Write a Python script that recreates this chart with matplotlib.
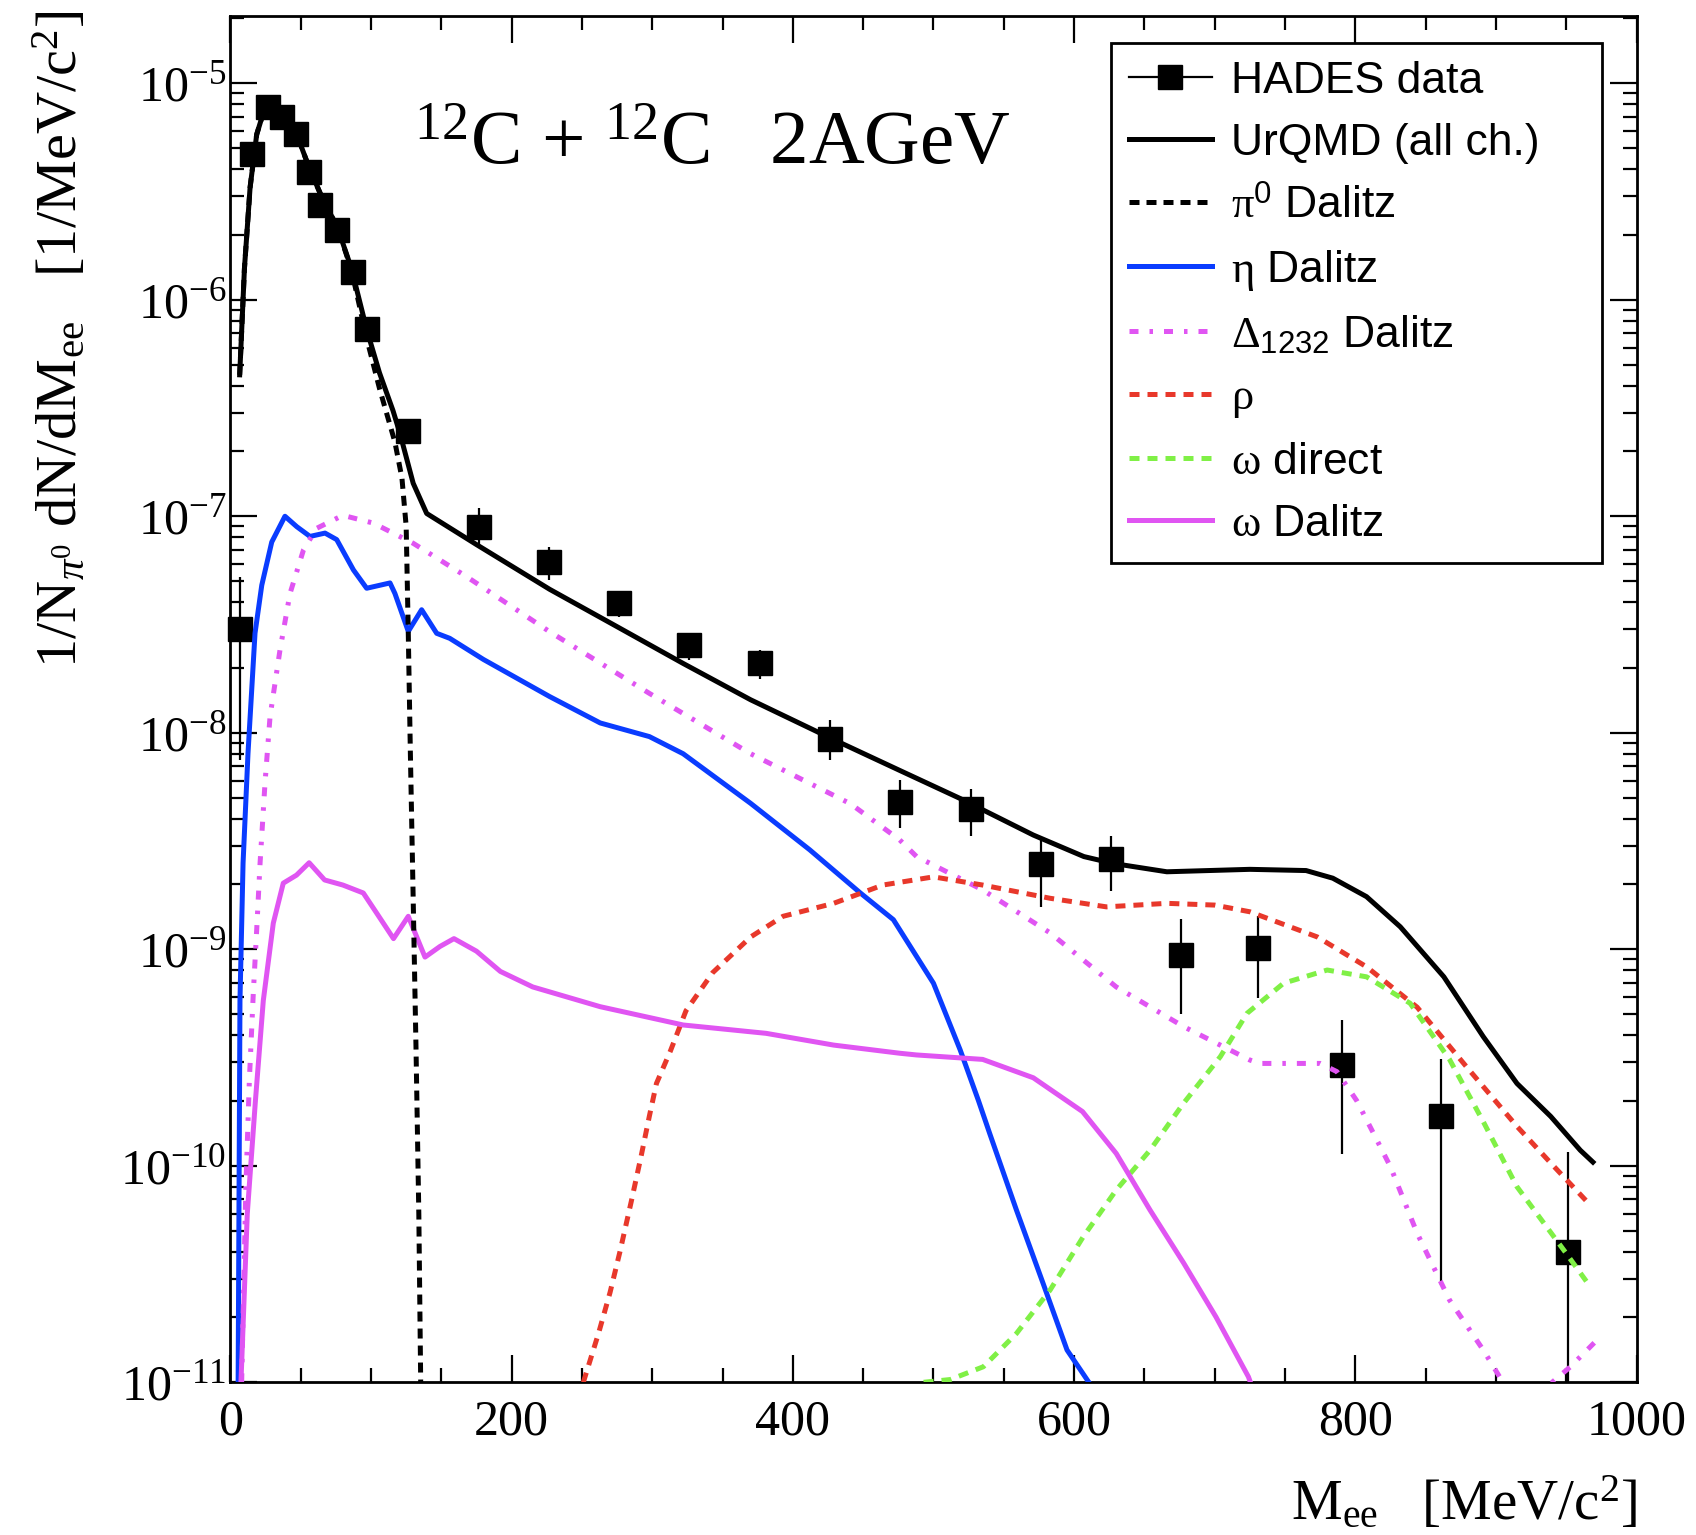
import matplotlib
matplotlib.use('Agg')
import matplotlib.pyplot as plt
from matplotlib.lines import Line2D
from matplotlib.ticker import MultipleLocator, LogLocator, NullFormatter
import numpy as np

plt.rcParams['font.family'] = ['Liberation Serif', 'DejaVu Serif']
plt.rcParams['mathtext.fontset'] = 'custom'
plt.rcParams['mathtext.rm'] = 'Liberation Serif'
plt.rcParams['mathtext.it'] = 'Liberation Serif:italic'
plt.rcParams['mathtext.bf'] = 'Liberation Serif:bold'
plt.rcParams['mathtext.sf'] = 'Liberation Sans'
plt.rcParams['axes.unicode_minus'] = False

# HADES data (M_ee in MeV/c^2, 1/N dN/dM), error bar low / high ends
hades_x = [6.6, 15.5, 26.5, 37, 46.5, 56, 64, 76, 87, 97, 126.5, 176.5, 226.5,
           276.5, 326.5, 376.5, 426.5, 476, 526.5, 576.5, 626.5, 676, 731,
           790.5, 861, 951]
hades_y = [3.0e-8, 4.7e-6, 7.8e-6, 7.0e-6, 5.8e-6, 3.9e-6, 2.73e-6, 2.1e-6,
           1.34e-6, 7.3e-7, 2.48e-7, 8.95e-8, 6.17e-8, 3.96e-8, 2.55e-8,
           2.09e-8, 9.4e-9, 4.8e-9, 4.43e-9, 2.48e-9, 2.6e-9, 9.4e-10, 1.01e-9,
           2.92e-10, 1.7e-10, 4.0e-11]
hades_lo = [7.5e-9, 4.5e-6, 7.5e-6, 6.7e-6, 5.55e-6, 3.75e-6, 2.62e-6, 2.02e-6,
            1.29e-6, 7.0e-7, 2.38e-7, 7.3e-8, 5.08e-8, 3.44e-8, 2.17e-8,
            1.78e-8, 7.5e-9, 3.62e-9, 3.33e-9, 1.57e-9, 1.85e-9, 5.0e-10,
            5.94e-10, 1.13e-10, 2.81e-11, 1.0e-11]
hades_hi = [5.26e-8, 4.9e-6, 8.1e-6, 7.3e-6, 6.05e-6, 4.05e-6, 2.84e-6, 2.18e-6,
            1.39e-6, 7.6e-7, 2.58e-7, 1.09e-7, 7.24e-8, 4.4e-8, 2.8e-8,
            2.41e-8, 1.15e-8, 6.05e-9, 5.48e-9, 3.31e-9, 3.33e-9, 1.38e-9,
            1.42e-9, 4.71e-10, 3.1e-10, 1.16e-10]

# UrQMD, all channels
urqmd_x = [6.6, 10, 14, 18.7, 25, 29, 36, 46, 56, 66, 76, 86, 97, 106, 115.6,
           120.6, 130, 139.6, 175, 227, 275, 322, 370, 429, 476, 519, 571, 607,
           628, 666, 725, 765, 784, 808, 832, 863, 891, 915, 939, 960, 969]
urqmd_y = [4.5e-7, 1.4e-6, 3.3e-6, 5.8e-6, 7.9e-6, 8.1e-6, 7.4e-6, 6.1e-6,
           4.07e-6, 2.88e-6, 2.17e-6, 1.4e-6, 7.26e-7, 4.6e-7, 3.08e-7, 2.41e-7,
           1.42e-7, 1.03e-7, 7.4e-8, 4.6e-8, 3.09e-8, 2.09e-8, 1.42e-8, 9.3e-9,
           6.7e-9, 4.97e-9, 3.37e-9, 2.68e-9, 2.49e-9, 2.28e-9, 2.34e-9,
           2.31e-9, 2.13e-9, 1.75e-9, 1.27e-9, 7.46e-10, 3.95e-10, 2.4e-10,
           1.69e-10, 1.18e-10, 1.04e-10]

# pi0 Dalitz
pi0_x = [6.6, 10, 14, 18.7, 25, 29, 36, 46, 56, 66, 76, 86, 97, 106, 117, 122,
         125, 126.5, 128, 130, 132, 134, 135.5]
pi0_y = [4.5e-7, 1.4e-6, 3.3e-6, 5.8e-6, 7.9e-6, 8.1e-6, 7.4e-6, 6.1e-6,
         4.07e-6, 2.88e-6, 2.17e-6, 1.38e-6, 6.6e-7, 3.9e-7, 2.2e-7, 1.5e-7,
         9.0e-8, 2.9e-8, 8.0e-9, 1.7e-9, 3.5e-10, 6.0e-11, 8.0e-12]

# eta Dalitz
eta_x = [5.5, 6.8, 9, 12.5, 17.5, 22.3, 29.4, 38.8, 47.2, 56.6, 67.3, 75.6,
         87.5, 96.9, 113.5, 117, 126.5, 136, 146.7, 156, 180, 227, 263, 298,
         322, 370, 412, 448, 471.5, 500, 519, 532, 540, 559, 578, 595, 610.5]
eta_y = [1e-11, 5.8e-10, 2.5e-9, 8.0e-9, 2.88e-8, 4.8e-8, 7.6e-8, 1.0e-7,
         8.95e-8, 8.07e-8, 8.36e-8, 7.8e-8, 5.65e-8, 4.65e-8, 4.92e-8, 4.4e-8,
         2.94e-8, 3.7e-8, 2.88e-8, 2.73e-8, 2.18e-8, 1.47e-8, 1.11e-8, 9.6e-9,
         8.0e-9, 4.72e-9, 2.88e-9, 1.82e-9, 1.37e-9, 6.97e-10, 3.43e-10,
         2.0e-10, 1.41e-10, 6.25e-11, 2.86e-11, 1.41e-11, 1e-11]

# Delta(1232) Dalitz
delta_x = [8, 11, 13.5, 16.3, 18.7, 21.1, 24.6, 28.2, 35.3, 42.4, 52, 61.4, 80,
           101.6, 130, 168, 227, 298, 370, 441, 476, 488, 535, 583, 630, 678,
           725, 732, 761, 775, 787, 801, 813, 825, 844, 867, 891, 905, 922,
           940, 953, 972]
delta_y = [1e-11, 8e-11, 2.5e-10, 6.3e-10, 1.23e-9, 2.5e-9, 5.85e-9, 1.19e-8,
           2.42e-8, 4.4e-8, 7.0e-8, 8.8e-8, 1.01e-7, 9.3e-8, 7.5e-8, 5.26e-8,
           2.93e-8, 1.52e-8, 8.0e-9, 4.7e-9, 3.2e-9, 2.68e-9, 1.88e-9, 1.19e-9,
           6.7e-10, 4.39e-10, 3.08e-10, 2.97e-10, 2.97e-10, 2.97e-10, 2.72e-10,
           2.0e-10, 1.41e-10, 9.9e-11, 4.88e-11, 2.4e-11, 1.41e-11, 1e-11,
           6e-12, 1e-11, 1.18e-11, 1.57e-11]

# rho
rho_x = [251, 262, 270, 277, 285, 292, 298, 303, 313, 324, 343, 370, 393, 429,
         464, 500, 535, 583, 623, 666, 700, 725, 773, 808, 844, 879, 915, 939,
         966]
rho_y = [1e-11, 1.7e-11, 2.6e-11, 4.0e-11, 6.8e-11, 1.1e-10, 1.7e-10, 2.4e-10,
         3.4e-10, 5.2e-10, 7.8e-10, 1.14e-9, 1.42e-9, 1.63e-9, 1.98e-9,
         2.16e-9, 1.98e-9, 1.72e-9, 1.57e-9, 1.63e-9, 1.6e-9, 1.49e-9, 1.14e-9,
         8.3e-10, 5.4e-10, 2.87e-10, 1.52e-10, 1.03e-10, 6.7e-11]

# omega direct
omega_x = [493, 512, 535.5, 559, 583, 606.6, 630, 654, 678, 704, 723, 749, 780,
           808, 839, 867, 891, 915, 950, 967]
omega_y = [1e-11, 1.03e-11, 1.18e-11, 1.68e-11, 2.67e-11, 4.71e-11, 7.73e-11,
           1.18e-10, 1.95e-10, 3.19e-10, 5.06e-10, 6.97e-10, 8.02e-10,
           7.46e-10, 5.63e-10, 3.1e-10, 1.6e-10, 8.0e-11, 3.94e-11, 2.77e-11]

# omega Dalitz
omd_x = [7.5, 12, 17.8, 23.4, 30.5, 37.6, 47, 56, 67, 80, 94.5, 104, 116,
         126.5, 138.4, 149, 159, 175, 192, 215, 263, 322, 381, 429, 476, 488,
         535, 571, 606, 630, 654, 678, 701, 724, 728]
omd_y = [1e-11, 6e-11, 2.0e-10, 5.8e-10, 1.32e-9, 2.02e-9, 2.2e-9, 2.51e-9,
         2.09e-9, 1.98e-9, 1.82e-9, 1.47e-9, 1.12e-9, 1.42e-9, 9.2e-10, 1.03e-9,
         1.12e-9, 9.8e-10, 7.9e-10, 6.7e-10, 5.43e-10, 4.47e-10, 4.09e-10,
         3.61e-10, 3.31e-10, 3.25e-10, 3.1e-10, 2.55e-10, 1.78e-10, 1.14e-10,
         6.25e-11, 3.55e-11, 2.0e-11, 1.06e-11, 9e-12]

C_BLUE = '#0A3CFF'
C_MAG = '#E055F2'
C_RED = '#E8382B'
C_GREEN = '#80F046'

fig = plt.figure(figsize=(16.96, 15.35), dpi=100)
ax = fig.add_axes([0.13585, 0.09948, 0.82907, 0.88997])

# data
hy = np.array(hades_y)
yerr = [hy - np.array(hades_lo), np.array(hades_hi) - hy]
eb = ax.errorbar(hades_x, hades_y, yerr=yerr, fmt='s', color='k', ms=17,
                 mew=1, elinewidth=1.6, capsize=0, zorder=2)
eb[0].set_clip_on(False)

lw = 3.6
ax.plot(urqmd_x, urqmd_y, color='k', lw=lw, zorder=4)
ax.plot(pi0_x, pi0_y, color='k', lw=lw, ls=(0, (2.0, 1.4)), zorder=4)
ax.plot(eta_x, eta_y, color=C_BLUE, lw=lw, zorder=3)
ax.plot(delta_x, delta_y, color=C_MAG, lw=lw, ls=(0, (1.8, 2.2, 0.7, 2.2)), zorder=3)
ax.plot(rho_x, rho_y, color=C_RED, lw=lw, ls=(0, (2.0, 1.6)), zorder=3)
ax.plot(omega_x, omega_y, color=C_GREEN, lw=lw, ls=(0, (2.0, 1.6)), zorder=3)
ax.plot(omd_x, omd_y, color=C_MAG, lw=lw, zorder=3)

ax.set_yscale('log')
ax.set_xlim(0, 1000)
ax.set_ylim(1e-11, 2.04e-5)
ax.xaxis.set_major_locator(MultipleLocator(200))
ax.xaxis.set_minor_locator(MultipleLocator(50))
ax.yaxis.set_major_locator(LogLocator(base=10, numticks=20))
ax.yaxis.set_minor_locator(LogLocator(base=10, subs=np.arange(2, 10) * 1.0, numticks=20))
ax.yaxis.set_minor_formatter(NullFormatter())

ax.tick_params(which='both', direction='in', top=True, right=True, width=1.6,
               labelsize=36)
ax.tick_params(which='major', length=19.5)
ax.tick_params(which='minor', length=10)
ax.tick_params(axis='x', which='major', pad=12)
ax.tick_params(axis='y', which='major', pad=3)
for s in ax.spines.values():
    s.set_linewidth(2)

ax.text(0.1306, 0.892, r'$^{12}$C + $^{12}$C   2AGeV', transform=ax.transAxes,
        fontsize=55.5, ha='left', va='baseline')

fig.text(0.9655, 0.0098, r'M$_{\mathrm{ee}}$   [MeV/c$^{2}$]', fontsize=41,
         ha='right', va='baseline')
fig.text(0.036, 0.993, r'1/N$_{\pi^{0}}$ dN/dM$_{\mathrm{ee}}$   [1/MeV/c$^{2}$]',
         fontsize=42, rotation=90, ha='center', va='top')

handles = [
    Line2D([], [], color='k', lw=1.6, marker='s', ms=17),
    Line2D([], [], color='k', lw=lw),
    Line2D([], [], color='k', lw=lw, ls=(0, (2.0, 1.4))),
    Line2D([], [], color=C_BLUE, lw=lw),
    Line2D([], [], color=C_MAG, lw=lw, ls=(0, (1.8, 2.2, 0.7, 2.2))),
    Line2D([], [], color=C_RED, lw=lw, ls=(0, (2.0, 1.6))),
    Line2D([], [], color=C_GREEN, lw=lw, ls=(0, (2.0, 1.6))),
    Line2D([], [], color=C_MAG, lw=lw),
]
labels = [
    'HADES data',
    'UrQMD (all ch.)',
    r'$\mathrm{\pi}^{\mathsf{0}}$ Dalitz',
    r'$\mathrm{\eta}$ Dalitz',
    r'$\mathrm{\Delta}_{\mathsf{1232}}$ Dalitz',
    r'$\mathrm{\rho}$',
    r'$\mathrm{\omega}$ direct',
    r'$\mathrm{\omega}$ Dalitz',
]
leg = ax.legend(handles, labels, loc='upper left',
                bbox_to_anchor=(0.6263, 0.0, 0.349, 0.9805), mode='expand',
                borderaxespad=0, prop={'family': ['Liberation Sans', 'DejaVu Sans'], 'size': 32},
                handlelength=1.87, handletextpad=0.44, labelspacing=0.48,
                borderpad=0.4, fancybox=False, framealpha=1, edgecolor='k')
leg.get_frame().set_linewidth(2)

fig.savefig('out.png', dpi=100, facecolor='white')
